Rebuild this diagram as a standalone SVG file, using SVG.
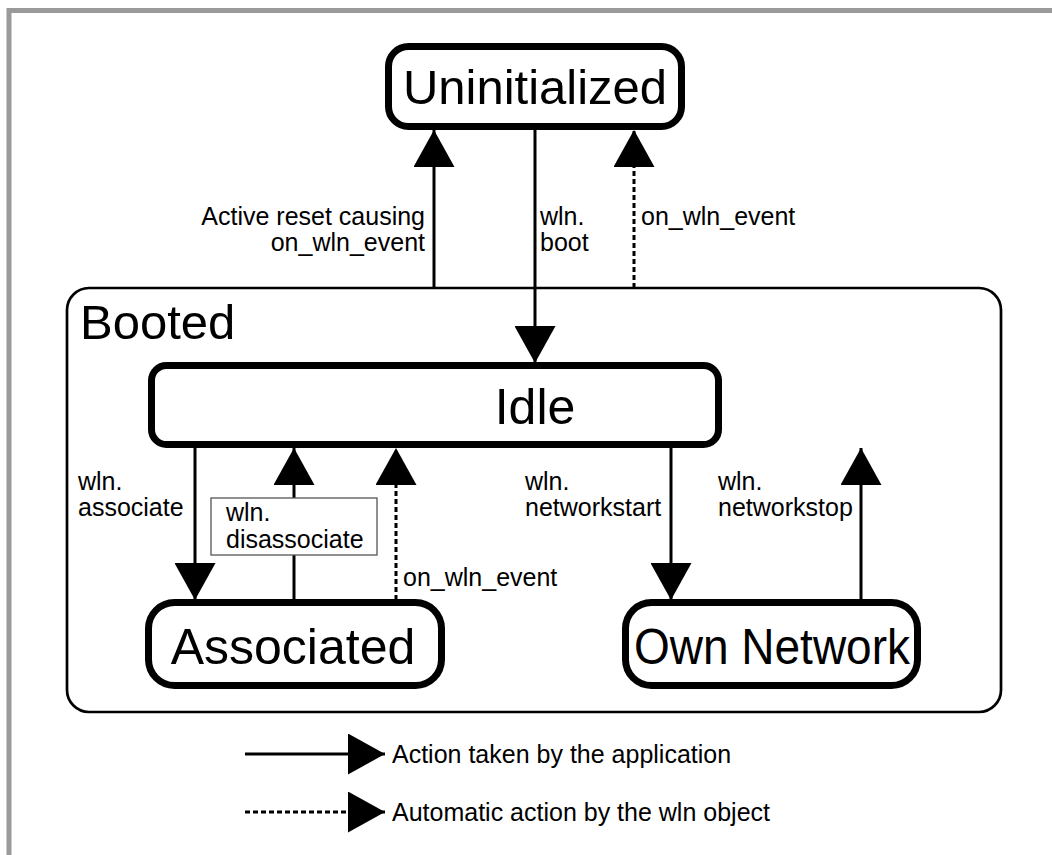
<svg xmlns="http://www.w3.org/2000/svg" width="1052" height="855" viewBox="0 0 1052 855">
<style>
text{font-family:"Liberation Sans",Arial,sans-serif;fill:#000}
.state{fill:#fff;stroke:#000;stroke-width:7}
.big{font-size:49px;text-anchor:middle}
.lbl{font-size:25px}
.conn{stroke:#000;stroke-width:3;fill:none}
.dash{stroke-dasharray:5 3}
</style>
<defs>
<marker id="ah" markerUnits="userSpaceOnUse" markerWidth="37" markerHeight="41" refX="37" refY="20.5" orient="auto" viewBox="0 0 37 41">
<path d="M0,0 L37,20.5 L0,41 Z" fill="#000" stroke="none"/>
</marker>
</defs>
<rect width="1052" height="855" fill="#fff"/>
<path d="M9,855 V10.5 H1052" fill="none" stroke="#9a9a9a" stroke-width="5"/>

<g id="booted">
<rect x="67" y="288" width="934" height="424" rx="22" fill="#fff" stroke="#000" stroke-width="2.7"/>
<text x="80" y="339" style="font-size:49px">Booted</text>
</g>

<g id="uninitialized">
<rect class="state" x="388.5" y="46.5" width="293" height="80" rx="20"/>
<text class="big" x="535" y="104">Uninitialized</text>
</g>

<g id="idle">
<rect class="state" x="151.5" y="365.5" width="567" height="79" rx="15"/>
<text class="big" x="535" y="424" style="font-size:50px">Idle</text>
</g>

<g id="associated">
<rect class="state" x="148.5" y="602.5" width="293" height="83" rx="26"/>
<text class="big" x="293" y="664" style="font-size:50px">Associated</text>
</g>

<g id="ownnetwork">
<rect class="state" x="625.5" y="602.5" width="292" height="83" rx="26"/>
<text class="big" x="772" y="664" style="font-size:50px" textLength="276" lengthAdjust="spacingAndGlyphs">Own Network</text>
</g>

<g id="connectors">
<line class="conn" x1="434" y1="288" x2="434" y2="130" marker-end="url(#ah)"/>
<line class="conn" x1="535" y1="130" x2="535" y2="363" marker-end="url(#ah)"/>
<line class="conn dash" x1="634" y1="288" x2="634" y2="130" marker-end="url(#ah)"/>
<line class="conn" x1="195" y1="448" x2="195" y2="600" marker-end="url(#ah)"/>
<line class="conn" x1="294" y1="600" x2="294" y2="448" marker-end="url(#ah)"/>
<line class="conn dash" x1="396" y1="600" x2="396" y2="448" marker-end="url(#ah)"/>
<line class="conn" x1="671" y1="448" x2="671" y2="600" marker-end="url(#ah)"/>
<line class="conn" x1="861" y1="600" x2="861" y2="448" marker-end="url(#ah)"/>
</g>

<g id="labels">
<text class="lbl" x="425" y="225" text-anchor="end">Active reset causing</text>
<text class="lbl" x="425" y="251" text-anchor="end">on_wln_event</text>
<text class="lbl" x="540" y="225">wln.</text>
<text class="lbl" x="540" y="251">boot</text>
<text class="lbl" x="641" y="225">on_wln_event</text>
<text class="lbl" x="78" y="490">wln.</text>
<text class="lbl" x="78" y="516">associate</text>
<rect x="211" y="498" width="166" height="57" fill="#fff" stroke="#555" stroke-width="1.3"/>
<text class="lbl" x="226" y="521">wln.</text>
<text class="lbl" x="226" y="548">disassociate</text>
<text class="lbl" x="403" y="586">on_wln_event</text>
<text class="lbl" x="525" y="490">wln.</text>
<text class="lbl" x="525" y="516">networkstart</text>
<text class="lbl" x="718" y="490">wln.</text>
<text class="lbl" x="718" y="516">networkstop</text>
</g>

<g id="legend">
<line class="conn" x1="245" y1="754" x2="385" y2="754" marker-end="url(#ah)"/>
<text class="lbl" x="392" y="763">Action taken by the application</text>
<line class="conn dash" x1="245" y1="812" x2="385" y2="812" marker-end="url(#ah)"/>
<text class="lbl" x="392" y="821">Automatic action by the wln object</text>
</g>
</svg>
